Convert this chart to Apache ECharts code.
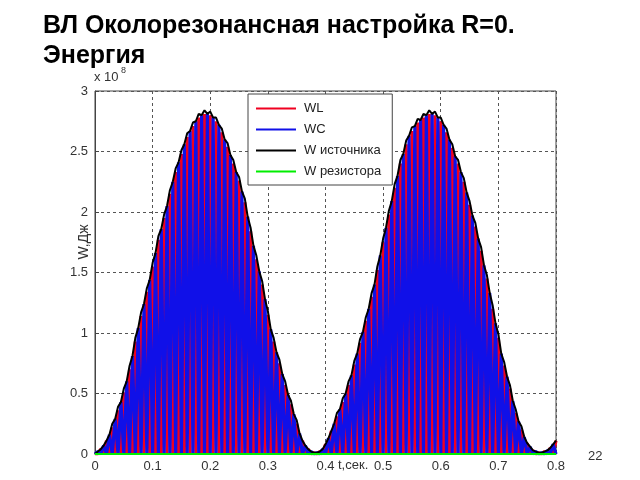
<!DOCTYPE html>
<html>
<head>
<meta charset="utf-8">
<script src="https://cdn.jsdelivr.net/npm/echarts@6/dist/echarts.min.js"></script>
<style>html,body{margin:0;padding:0;background:#fff}#c{width:640px;height:480px}</style>
</head>
<body>
<div id="c"></div>
<script>
// time samples, s
const T = [0,0.005,0.01,0.015,0.02,0.025,0.03,0.035,0.04,0.045,0.05,0.055,0.06,0.065,0.07,0.075,0.08,0.085,0.09,0.095,
0.1,0.105,0.11,0.115,0.12,0.125,0.13,0.135,0.14,0.145,0.15,0.155,0.16,0.165,0.17,0.175,0.18,0.185,0.19,0.195,
0.2,0.205,0.21,0.215,0.22,0.225,0.23,0.235,0.24,0.245,0.25,0.255,0.26,0.265,0.27,0.275,0.28,0.285,0.29,0.295,
0.3,0.305,0.31,0.315,0.32,0.325,0.33,0.335,0.34,0.345,0.35,0.355,0.36,0.365,0.37,0.375,0.38,0.385,0.39,0.395,
0.4,0.405,0.41,0.415,0.42,0.425,0.43,0.435,0.44,0.445,0.45,0.455,0.46,0.465,0.47,0.475,0.48,0.485,0.49,0.495,
0.5,0.505,0.51,0.515,0.52,0.525,0.53,0.535,0.54,0.545,0.55,0.555,0.56,0.565,0.57,0.575,0.58,0.585,0.59,0.595,
0.6,0.605,0.61,0.615,0.62,0.625,0.63,0.635,0.64,0.645,0.65,0.655,0.66,0.665,0.67,0.675,0.68,0.685,0.69,0.695,
0.7,0.705,0.71,0.715,0.72,0.725,0.73,0.735,0.74,0.745,0.75,0.755,0.76,0.765,0.77,0.775,0.78,0.785,0.79,0.795,0.8];

// WL energy, x1e8 J
const WL = [0,0,0.04,0,0.11,0,0.22,0,0.36,0,0.51,0,0.70,0,0.93,0,1.14,0,1.34,0,
1.55,0,1.77,0,1.95,0,2.15,0,2.33,0,2.48,0,2.62,0,2.71,0,2.78,0,2.81,0,
2.80,0,2.75,0,2.66,0,2.54,0,2.40,0,2.26,0,2.08,0,1.84,0,1.61,0,1.40,0,
1.15,0,0.93,0,0.75,0,0.57,0,0.41,0,0.25,0,0.11,0,0.04,0,0.01,0,0.02,0,
0.08,0,0.19,0,0.31,0,0.43,0,0.57,0,0.74,0,0.92,0,1.10,0,1.30,0,1.52,0,
1.75,0,1.98,0,2.20,0,2.40,0,2.56,0,2.67,0,2.74,0,2.78,0,2.81,0,2.80,0,
2.75,0,2.66,0,2.53,0,2.40,0,2.25,0,2.06,0,1.88,0,1.68,0,1.45,0,1.20,0,
0.96,0,0.73,0,0.54,0,0.34,0,0.20,0,0.09,0,0.03,0,0.01,0,0.02,0,0.05,0,0.11];

// WC energy, x1e8 J
const WC = [0,0.02,0,0.07,0,0.16,0,0.29,0,0.43,0,0.60,0,0.81,0,1.04,0,1.24,0,1.44,
0,1.66,0,1.86,0,2.05,0,2.25,0,2.41,0,2.56,0,2.67,0,2.75,0,2.80,0,2.81,
0,2.78,0,2.72,0,2.60,0,2.47,0,2.33,0,2.17,0,1.96,0,1.72,0,1.51,0,1.28,
0,1.03,0,0.84,0,0.66,0,0.49,0,0.33,0,0.17,0,0.07,0,0.02,0,0.01,0,0.04,
0,0.13,0,0.25,0,0.37,0,0.50,0,0.65,0,0.83,0,1.01,0,1.20,0,1.40,0,1.64,
0,1.87,0,2.09,0,2.30,0,2.48,0,2.63,0,2.71,0,2.76,0,2.80,0,2.81,0,2.78,
0,2.72,0,2.60,0,2.46,0,2.33,0,2.16,0,1.97,0,1.78,0,1.56,0,1.33,0,1.08,
0,0.83,0,0.64,0,0.44,0,0.27,0,0.14,0,0.06,0,0.02,0,0.01,0,0.03,0,0.08,0];

// source energy, x1e8 J
const WSRC = [0.00,0.02,0.04,0.07,0.11,0.16,0.25,0.29,0.39,0.43,0.54,0.60,0.73,0.81,0.96,1.04,1.17,1.24,1.37,1.44,
1.58,1.66,1.80,1.86,1.98,2.05,2.18,2.25,2.36,2.41,2.51,2.56,2.65,2.67,2.74,2.75,2.81,2.80,2.84,2.81,
2.83,2.78,2.78,2.72,2.69,2.60,2.57,2.47,2.43,2.33,2.29,2.17,2.11,1.96,1.87,1.72,1.64,1.51,1.43,1.28,
1.18,1.03,0.96,0.84,0.78,0.66,0.60,0.49,0.44,0.33,0.28,0.17,0.11,0.07,0.04,0.02,0.01,0.01,0.02,0.04,
0.08,0.13,0.19,0.25,0.34,0.37,0.46,0.50,0.60,0.65,0.77,0.83,0.95,1.01,1.13,1.20,1.33,1.40,1.55,1.64,
1.78,1.87,2.01,2.09,2.23,2.30,2.43,2.48,2.59,2.63,2.70,2.71,2.77,2.76,2.81,2.80,2.84,2.81,2.83,2.78,
2.78,2.72,2.69,2.60,2.56,2.46,2.43,2.33,2.28,2.16,2.09,1.97,1.91,1.78,1.71,1.56,1.48,1.33,1.23,1.08,
0.99,0.83,0.76,0.64,0.57,0.44,0.37,0.27,0.23,0.14,0.09,0.06,0.03,0.02,0.01,0.01,0.02,0.03,0.05,0.08,0.11];

// resistor energy (R = 0)
const T_RES = [0, 0.8];
const WRES = [0, 0];

const seriesNames = ['WL', 'WC', 'W источника', 'W резистора'];
const seriesColors = ['#f00020', '#1010e8', '#000000', '#00ee00'];

function pairs(xs, ys) { return xs.map((x, i) => [x, ys[i]]); }

const FONT = 'Liberation Sans, Arial, sans-serif';
const chart = echarts.init(document.getElementById('c'), null, { renderer: 'canvas' });
chart.setOption({
  animation: false,
  backgroundColor: '#ffffff',
  title: {
    text: 'ВЛ Околорезонансная настройка R=0.\nЭнергия',
    left: 38, top: 6,
    textStyle: { fontFamily: FONT, fontSize: 25, fontWeight: 'bold', color: '#000', lineHeight: 30 }
  },
  grid: { left: 95, right: 84, top: 91, bottom: 26, show: true, borderColor: '#444', borderWidth: 1, backgroundColor: 'transparent' },
  legend: {
    orient: 'vertical', left: 248, top: 94,
    backgroundColor: '#fff', borderColor: '#444', borderWidth: 1,
    padding: [7, 11, 6, 8], itemGap: 6, itemWidth: 40, itemHeight: 2, icon: 'rect',
    textStyle: { fontFamily: FONT, fontSize: 13, color: '#222', padding: [0, 0, 0, 3], lineHeight: 15 },
    data: seriesNames
  },
  xAxis: {
    type: 'value', min: 0, max: 0.8, interval: 0.1,
    axisLine: { show: true, lineStyle: { color: '#444' } },
    axisTick: { show: true, inside: true, length: 4, lineStyle: { color: '#444' } },
    axisLabel: { fontFamily: FONT, fontSize: 13, color: '#333', margin: 6 },
    splitLine: { show: true, lineStyle: { color: '#555', type: [3, 3], width: 1 } }
  },
  yAxis: {
    type: 'value', min: 0, max: 3, interval: 0.5,
    axisLine: { show: true, lineStyle: { color: '#444' } },
    axisTick: { show: true, inside: true, length: 4, lineStyle: { color: '#444' } },
    axisLabel: { fontFamily: FONT, fontSize: 13, color: '#333', margin: 7 },
    splitLine: { show: true, lineStyle: { color: '#555', type: [3, 3], width: 1 } }
  },
  graphic: [
    { type: 'text', left: 94, top: 71, style: { text: 'x 10', font: '13px ' + FONT, fill: '#333' } },
    { type: 'text', left: 121, top: 66, style: { text: '8', font: '9px ' + FONT, fill: '#333' } },
    { type: 'text', x: 84, y: 242, rotation: Math.PI / 2, style: { text: 'W,Дж', font: '14px ' + FONT, fill: '#333', align: 'center', verticalAlign: 'middle' } },
    { type: 'text', left: 338, top: 459, style: { text: 't,сек.', font: '13px ' + FONT, fill: '#333' } },
    { type: 'text', left: 588, top: 450, style: { text: '22', font: '13px ' + FONT, fill: '#333' } }
  ],
  series: [
    { name: seriesNames[0], type: 'line', data: pairs(T, WL), showSymbol: false, symbol: 'none', color: seriesColors[0], lineStyle: { width: 3.2, color: seriesColors[0] }, silent: true, z: 2 },
    { name: seriesNames[1], type: 'line', data: pairs(T, WC), showSymbol: false, symbol: 'none', color: seriesColors[1], lineStyle: { width: 3.2, color: seriesColors[1] }, silent: true, z: 3 },
    { name: seriesNames[2], type: 'line', data: pairs(T, WSRC), showSymbol: false, symbol: 'none', color: seriesColors[2], lineStyle: { width: 2, color: seriesColors[2] }, silent: true, z: 4 },
    { name: seriesNames[3], type: 'line', data: pairs(T_RES, WRES), showSymbol: false, symbol: 'none', color: seriesColors[3], lineStyle: { width: 2, color: seriesColors[3] }, silent: true, z: 5 }
  ]
});
</script>
</body>
</html>
